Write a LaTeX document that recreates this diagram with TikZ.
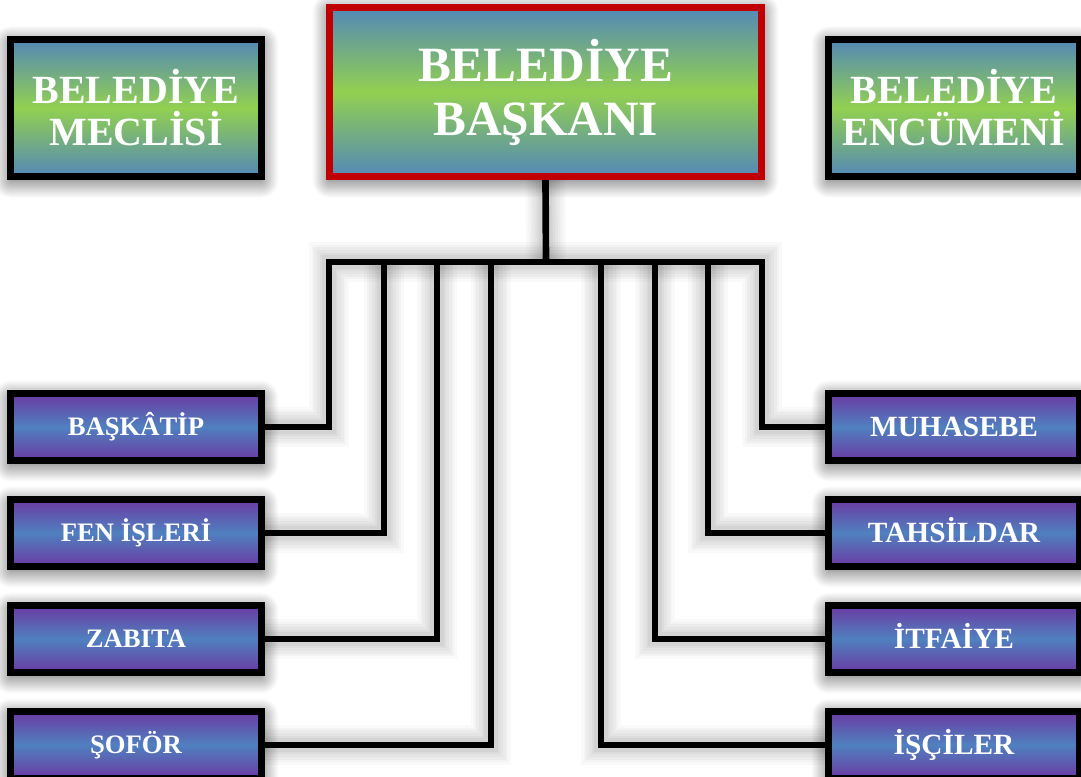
\documentclass[tikz,border=0pt]{standalone}
\usepackage{fontspec}
\setmainfont{Liberation Serif}
\usetikzlibrary{positioning, shadows.blur}

\definecolor{ustmavi}{HTML}{5388B8}
\definecolor{ustyesil}{HTML}{92D050}
\definecolor{mor}{HTML}{6B3AA3}
\definecolor{altmavi}{HTML}{4F80BF}
\definecolor{kirmizi}{HTML}{C00000}

\tikzset{
  golge/.style={blur shadow={shadow xshift=0pt, shadow yshift=-3pt, shadow blur radius=13pt, shadow blur steps=16, shadow opacity=70}},
  ustkutu/.style={draw, line width=5pt, top color=ustmavi, bottom color=ustmavi, middle color=ustyesil,
    text=white, align=center, minimum width=188pt, minimum height=103pt,
    font=\fontsize{30}{31.5}\selectfont\bfseries, golge},
  altkutu/.style={draw, line width=5pt, top color=mor, bottom color=mor, middle color=altmavi,
    text=white, align=center, minimum width=188pt, minimum height=50pt, text depth=0pt, golge},
  solkutu/.style={altkutu, text height=13.2pt, font=\fontsize{20}{24}\selectfont\bfseries},
  sagkutu/.style={altkutu, text height=14.5pt, font=\fontsize{22}{26}\selectfont\bfseries},
  cizgi/.style={line width=5pt, line join=miter,
    preaction={draw=black, opacity=.025, line width=30pt},
    preaction={draw=black, opacity=.025, line width=26pt},
    preaction={draw=black, opacity=.03, line width=22pt},
    preaction={draw=black, opacity=.03, line width=18pt},
    preaction={draw=black, opacity=.035, line width=14pt},
    preaction={draw=black, opacity=.04, line width=10pt}}
}

\begin{document}
\begin{tikzpicture}[x=0.75pt, y=-0.75pt, node distance=24.5pt]
  \useasboundingbox (0,0) rectangle (1081,776);

  % ust sira
  \node[ustkutu, draw=kirmizi, minimum width=324pt, minimum height=127pt,
    font=\fontsize{37}{40.5}\selectfont\bfseries] (baskan) at (545.5,92) {BELEDİYE\\BAŞKANI};
  \node[ustkutu] (meclis) at (136,108) {BELEDİYE\\MECLİSİ};
  \node[ustkutu] (encumen) at (954,108) {BELEDİYE\\ENCÜMENİ};

  % sol sutun
  \node[solkutu] (baskatip) at (136,427) {BAŞKÂTİP};
  \node[solkutu, below=of baskatip] (fen) {FEN İŞLERİ};
  \node[solkutu, below=of fen] (zabita) {ZABITA};
  \node[solkutu, below=of zabita] (sofor) {ŞOFÖR};

  % sag sutun
  \node[sagkutu] (muhasebe) at (954,427) {MUHASEBE};
  \node[sagkutu, below=of muhasebe] (tahsildar) {TAHSİLDAR};
  \node[sagkutu, below=of tahsildar] (itfaiye) {İTFAİYE};
  \node[sagkutu, below=of itfaiye] (isciler) {İŞÇİLER};

  % baglantilar
  \coordinate (catal) at (546,262);
  \foreach \ad/\x in {baskatip/329, fen/384, zabita/437, sofor/491,
                      muhasebe/762, tahsildar/708, itfaiye/655, isciler/601}
    \coordinate (\ad-ust) at (\x,262);

  \draw[cizgi] (baskan.south) -- (catal);
  \draw[cizgi] (baskatip.east) -| (baskatip-ust) -- (muhasebe-ust) |- (muhasebe.west);
  \foreach \ad in {fen, zabita, sofor}
    \draw[cizgi] (\ad.east) -| (\ad-ust);
  \foreach \ad in {tahsildar, itfaiye, isciler}
    \draw[cizgi] (\ad.west) -| (\ad-ust);
\end{tikzpicture}
\end{document}
